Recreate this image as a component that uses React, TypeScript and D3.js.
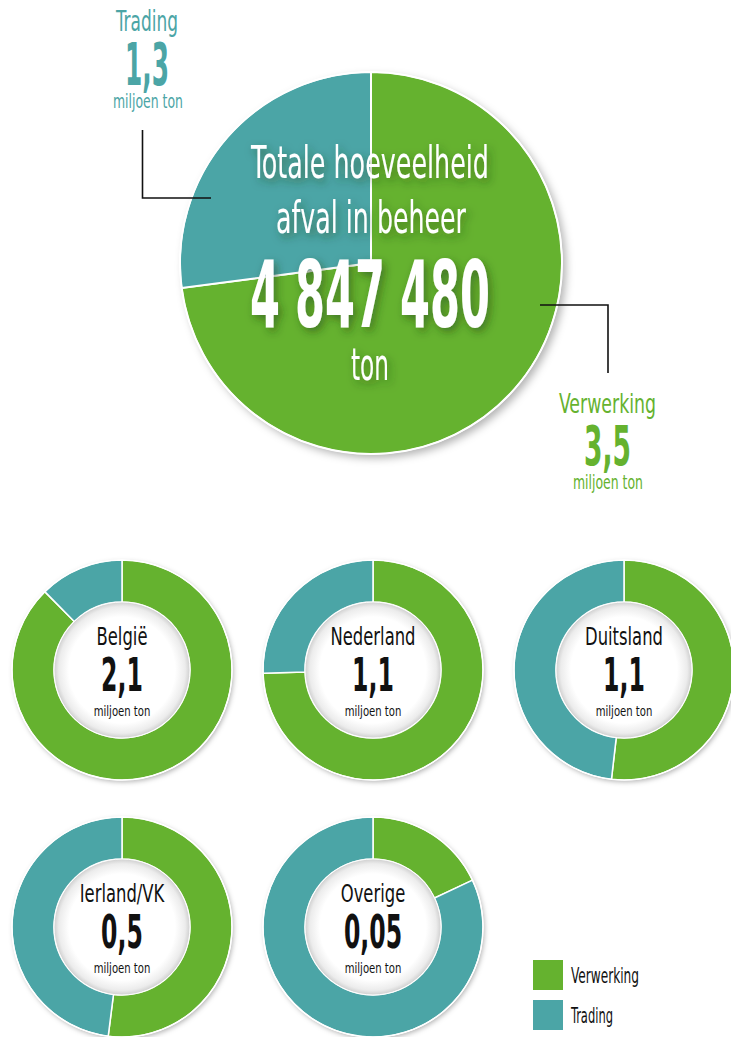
import React from "react";
import * as d3 from "d3";

const mainCategories = ["Verwerking", "Trading"];
const mainValues = [3.5, 1.3];
const mainLabels = ["3,5", "1,3"];
const totalLabel = "4 847 480";

const regions = ["België", "Nederland", "Duitsland", "Ierland/VK", "Overige"];
const regionTotals = ["2,1", "1,1", "1,1", "0,5", "0,05"];
const regionVerwerking = [1.84, 0.82, 0.57, 0.26, 0.009];
const regionTrading = [0.26, 0.28, 0.53, 0.24, 0.041];

const GREEN = "#65b22f";
const TEAL = "#4ba5a6";
const colors = d3.scaleOrdinal<string, string>().domain(mainCategories).range([GREEN, TEAL]);

const FONT = '"Liberation Sans Narrow", "Arial Narrow", "DejaVu Sans Condensed", sans-serif';

const W = 731;
const H = 1037;

function FitText(props: any) {
  const { x, y, w, size, bold, fill, children, anchor, filter } = props;
  return (
    <text
      x={x}
      y={y}
      fontSize={size}
      fontWeight={bold ? 700 : 400}
      fill={fill}
      fontFamily={FONT}
      textAnchor={anchor || "middle"}
      textLength={w}
      lengthAdjust="spacingAndGlyphs"
      filter={filter}
    >
      {children}
    </text>
  );
}

function ScaledText(props: any) {
  const { x, y, sx, size, bold, fill, children } = props;
  return (
    <g transform={`translate(${x},${y}) scale(${sx},1)`}>
      <text x={0} y={0} fontSize={size} fontWeight={bold ? 700 : 400} fill={fill} fontFamily={FONT} textAnchor="middle">
        {children}
      </text>
    </g>
  );
}

export default function App() {
  const pie = d3
    .pie<number>()
    .sort(null)
    .value((d) => d);

  const mainCx = 371;
  const mainCy = 263;
  const mainR = 191;
  const mainArc = d3.arc<d3.PieArcDatum<number>>().innerRadius(0).outerRadius(mainR);
  const mainArcs = pie(mainValues);

  const donutOuter = 110;
  const donutInner = 68;
  const donutArc = d3.arc<d3.PieArcDatum<number>>().innerRadius(donutInner).outerRadius(donutOuter);
  const colX = d3.scalePoint<number>().domain([0, 1, 2]).range([122, 624]);
  const rowY = d3.scalePoint<number>().domain([0, 1]).range([670, 927]);

  return (
    <svg
      width={W}
      height={H}
      viewBox={`0 0 ${W} ${H}`}
      style={{ position: "absolute", left: 0, top: 0, display: "block", background: "#fff" }}
    >
      <defs>
        <filter id="pieShadow" x="-20%" y="-20%" width="140%" height="140%">
          <feDropShadow dx="4" dy="4" stdDeviation="4" floodColor="#000" floodOpacity="0.3" />
        </filter>
        <filter id="donutShadow" x="-20%" y="-20%" width="140%" height="140%">
          <feDropShadow dx="1.5" dy="2" stdDeviation="2.5" floodColor="#000" floodOpacity="0.3" />
        </filter>
        <filter id="textShadow" x="-20%" y="-40%" width="140%" height="180%">
          <feDropShadow dx="3" dy="4" stdDeviation="4" floodColor="#1a3a10" floodOpacity="0.5" />
        </filter>
        <radialGradient id="innerGrad" cx="50%" cy="50%" r="50%">
          <stop offset="0%" stopColor="#ffffff" />
          <stop offset="78%" stopColor="#ffffff" />
          <stop offset="93%" stopColor="#ececec" />
          <stop offset="100%" stopColor="#cfcfcf" />
        </radialGradient>
      </defs>

      {/* Main pie */}
      <g transform={`translate(${mainCx},${mainCy})`}>
        <circle r={mainR} fill="#fff" filter="url(#pieShadow)" />
        {mainArcs.map((a, i) => (
          <path key={i} d={mainArc(a) || ""} fill={colors(mainCategories[i])} stroke="#fff" strokeWidth={2} />
        ))}
        <circle r={mainR} fill="none" stroke="#fff" strokeWidth={1.5} />
      </g>

      {/* Centre texts */}
      <g filter="url(#textShadow)">
        <FitText x={370} y={178} w={238} size={44} fill="#fff">Totale hoeveelheid</FitText>
        <FitText x={371} y={233} w={190} size={44} fill="#fff">afval in beheer</FitText>
        <FitText x={370} y={327} w={240} size={92} bold fill="#fff">{totalLabel}</FitText>
        <FitText x={370} y={380} w={38} size={44} fill="#fff">ton</FitText>
      </g>

      {/* Callouts */}
      <path d="M142.5,130 V198 H211" fill="none" stroke="#111" strokeWidth={1.6} />
      <path d="M540,305 H608 V373" fill="none" stroke="#111" strokeWidth={1.6} />

      <FitText x={147} y={31} w={62} size={28} fill={TEAL}>{mainCategories[1]}</FitText>
      <FitText x={147} y={85} w={44} size={58} bold fill={TEAL}>{mainLabels[1]}</FitText>
      <FitText x={148} y={108} w={70} size={19} fill={TEAL}>miljoen ton</FitText>

      <FitText x={607.5} y={413} w={97} size={27} fill={GREEN}>{mainCategories[0]}</FitText>
      <FitText x={607.5} y={465} w={47} size={55} bold fill={GREEN}>{mainLabels[0]}</FitText>
      <FitText x={608} y={489} w={70} size={19} fill={GREEN}>miljoen ton</FitText>

      {/* Donuts */}
      {regions.map((name, i) => {
        const cx = colX(i % 3) as number;
        const cy = rowY(Math.floor(i / 3)) as number;
        const arcs = pie([regionVerwerking[i], regionTrading[i]]);
        return (
          <g key={name} transform={`translate(${cx},${cy})`}>
            <circle r={donutOuter} fill="#fff" filter="url(#donutShadow)" />
            {arcs.map((a, j) => (
              <path key={j} d={donutArc(a) || ""} fill={colors(mainCategories[j])} stroke="#fff" strokeWidth={1.5} />
            ))}
            <circle r={donutOuter} fill="none" stroke="#fff" strokeWidth={1.2} />
            <circle r={donutInner} fill="url(#innerGrad)" stroke="#fff" strokeWidth={1} />
            <ScaledText x={0} y={-25} sx={0.76} size={24} fill="#111">{name}</ScaledText>
            <ScaledText x={0} y={21} sx={0.57} size={46} bold fill="#111">{regionTotals[i]}</ScaledText>
            <ScaledText x={0} y={46} sx={0.8} size={14} fill="#111">miljoen ton</ScaledText>
          </g>
        );
      })}

      {/* Legend */}
      {mainCategories.map((c, i) => (
        <g key={c} transform={`translate(533,${960 + i * 40})`}>
          <rect width={30} height={30} fill={colors(c)} />
          <FitText x={38} y={23} w={c === "Verwerking" ? 68 : 42} size={22} fill="#111" anchor="start">{c}</FitText>
        </g>
      ))}
    </svg>
  );
}
